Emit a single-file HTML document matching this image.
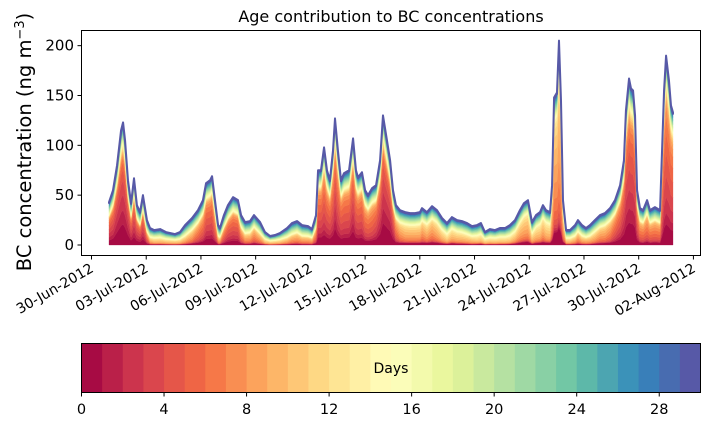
<!DOCTYPE html>
<html><head><meta charset="utf-8">
<style>
body{margin:0;background:#fff;}
svg{display:block;font-family:"DejaVu Sans","Liberation Sans",sans-serif;}
</style></head>
<body>
<svg id="chart" width="710" height="425" viewBox="0 0 710 425" xmlns="http://www.w3.org/2000/svg">
  <text x="391" y="22" font-size="16" text-anchor="middle" fill="#000">Age contribution to BC concentrations</text>
  <text transform="translate(31,142) rotate(-90)" font-size="19.5" text-anchor="middle" fill="#000">BC concentration (ng m<tspan baseline-shift="super" font-size="13">−3</tspan>)</text>
  <g id="layers"></g>
  <rect x="81.5" y="30.5" width="619" height="225" fill="none" stroke="#000" stroke-width="1"/>
  <g id="yaxis"></g>
  <g id="xaxis"></g>
  <g id="cbar"></g>
</svg>
<script>
// days since 30-Jun-2012 00:00
const times = [0.96,1.18,1.40,1.62,1.73,1.84,2.00,2.17,2.33,2.49,2.66,2.82,3.04,3.21,3.43,3.76,4.08,4.58,4.85,5.13,5.51,5.84,6.11,6.28,6.50,6.61,6.77,6.94,7.04,7.26,7.48,7.76,8.03,8.20,8.42,8.69,8.91,9.24,9.51,9.79,10.06,10.33,10.72,10.99,11.27,11.54,11.87,12.09,12.31,12.42,12.58,12.75,12.91,13.07,13.24,13.35,13.51,13.68,13.84,14.12,14.34,14.50,14.61,14.83,15.00,15.16,15.38,15.60,15.82,15.98,16.20,16.37,16.53,16.69,16.91,17.19,17.46,17.74,18.01,18.12,18.39,18.67,18.94,19.22,19.49,19.76,20.04,20.31,20.59,20.86,21.14,21.35,21.57,21.85,22.12,22.39,22.67,22.94,23.22,23.49,23.71,23.93,24.15,24.37,24.59,24.75,24.92,25.14,25.25,25.36,25.52,25.63,25.74,25.85,26.02,26.23,26.51,26.67,26.89,27.11,27.33,27.60,27.88,28.15,28.43,28.70,28.98,29.19,29.30,29.47,29.58,29.69,29.80,29.91,30.07,30.24,30.46,30.62,30.89,31.17,31.28,31.39,31.50,31.66,31.77,31.88];
const totals = [43,55,80,115,123,105,65,42,67,40,33,50,25,17,15,16,13,11,13,20,27,35,45,62,65,69,45,20,17,30,40,48,45,30,23,24,30,23,13,9,10,12,17,22,24,20,19,16,30,75,75,98,75,65,95,127,95,65,72,75,107,75,68,73,55,50,57,60,85,130,105,85,55,40,35,33,32,32,33,37,33,39,35,27,22,28,25,24,22,19,20,22,13,16,15,17,17,20,25,35,42,45,23,30,33,40,35,33,60,148,153,205,145,45,15,15,20,25,20,17,20,25,30,32,37,45,60,85,135,167,157,155,130,55,37,35,45,35,38,35,95,155,190,165,140,133];
const dominantAge = [3,3,2,2,2,2,2,3,3,3,3,3,5,9,10,10,10,10,10,9,8,6,5,4,4,4,5,8,8,5,4,4,4,6,8,8,7,8,10,10,10,10,9,8,8,8,8,8,6,4,4,4,4,4,4,3,4,4,4,4,3,4,4,4,5,5,5,4,3,2,2,2,3,6,8,9,9,9,9,8,9,8,9,10,11,10,10,10,10,10,11,11,11,11,11,11,11,11,10,9,9,9,10,10,10,9,10,10,8,8,8,8,8,8,10,10,9,8,9,9,9,9,8,8,7,5,4,3,3,3,3,3,3,4,6,6,6,6,6,6,5,4,4,4,4,4];
const yTicks = [0,50,100,150,200];
const xTickDays = [0,3,6,9,12,15,18,21,24,27,30,33];
const xTickLabels = ["30-Jun-2012","03-Jul-2012","06-Jul-2012","09-Jul-2012","12-Jul-2012","15-Jul-2012","18-Jul-2012","21-Jul-2012","24-Jul-2012","27-Jul-2012","30-Jul-2012","02-Aug-2012"];
const cbarTicks = [0,4,8,12,16,20,24,28];
const nAges = 30;

const NS="http://www.w3.org/2000/svg";
function mk(tag,attrs,parent){const e=document.createElementNS(NS,tag);for(const k in attrs)e.setAttribute(k,attrs[k]);parent.appendChild(e);return e;}
const xS = d => 91.5 + d*18.24;
const yS = v => 245 - v*0.9967;

const spec=["#9e0142","#d53e4f","#f46d43","#fdae61","#fee08b","#ffffbf","#e6f598","#abdda4","#66c2a5","#3288bd","#5e4fa2"];
function hx(h){return [1,3,5].map(i=>parseInt(h.substr(i,2),16));}
function cmap(t){const p=t*10,i=Math.min(9,Math.floor(p)),f=p-i;const a=hx(spec[i]),b=hx(spec[i+1]);return "rgb("+a.map((v,j)=>Math.round(v+(b[j]-v)*f)).join(",")+")";}

const cum = totals.map((tot,i)=>{
  const a=dominantAge[i];
  const oldPer=Math.min(tot*0.035, 0.6+tot*0.006);
  const oldN=nAges-14;
  const rest=tot-oldPer*oldN;
  const w=[];let s=0;
  for(let k=0;k<14;k++){let v=0.12+Math.exp(-0.5*Math.pow((k-a)/2.3,2));if(k===0)v+=0.7;w.push(v);s+=v;}
  const c=[0];let acc=0;
  for(let k=0;k<nAges;k++){acc+= k<14 ? w[k]/s*rest : oldPer;c.push(acc);}
  return c;
});
const layers=document.getElementById('layers');
for(let k=0;k<nAges;k++){
  let top=[],bot=[];
  for(let i=0;i<times.length;i++){top.push(xS(times[i]).toFixed(2)+","+yS(cum[i][k+1]).toFixed(2));bot.push(xS(times[i]).toFixed(2)+","+yS(cum[i][k]).toFixed(2));}
  const col=cmap((k+0.5)/nAges);
  const p=mk('polygon',{points:top.concat(bot.reverse()).join(" "),fill:col,stroke:col,'stroke-width':k===nAges-1?2:0.3,'stroke-linejoin':'round'},layers);
  
  
}

const ya=document.getElementById('yaxis');
yTicks.forEach(v=>{
  const y=yS(v);
  const l=mk('line',{x1:77.5,x2:81.5,y1:y,y2:y,stroke:'#000'},ya);
  
  
  const t=mk('text',{x:74,y:y+5,'font-size':15,'text-anchor':'end',fill:'#000'},ya);t.textContent=v;
  
  
});
const xa=document.getElementById('xaxis');
xTickDays.forEach((d,i)=>{
  const x=xS(d);
  const l=mk('line',{x1:x,x2:x,y1:255.5,y2:259.5,stroke:'#000'},xa);
  
  
  const t=mk('text',{transform:`translate(${x+3},${271}) rotate(-30)`,'font-size':14,'text-anchor':'end',fill:'#000'},xa);t.textContent=xTickLabels[i];
  
  
});

const cb=document.getElementById('cbar');
const cx0=81.5,cx1=700.5,cy0=343.5,cy1=392.5;
for(let k=0;k<nAges;k++){
  const r=mk('rect',{x:cx0+k*(cx1-cx0)/nAges,y:cy0,width:(cx1-cx0)/nAges+0.5,height:cy1-cy0,fill:cmap((k+0.5)/nAges)},cb);
  
  
}
const fr=mk('rect',{x:cx0,y:cy0,width:cx1-cx0,height:cy1-cy0,fill:'none',stroke:'#000'},cb);


const dl=mk('text',{x:391,y:373,'font-size':14,'text-anchor':'middle',fill:'#000'},cb);dl.textContent='Days';


cbarTicks.forEach(v=>{
  const x=cx0+v/nAges*(cx1-cx0);
  const l=mk('line',{x1:x,x2:x,y1:cy1,y2:cy1+4,stroke:'#000'},cb);
  
  
  const t=mk('text',{x:x,y:414,'font-size':14.5,'text-anchor':'middle',fill:'#000'},cb);t.textContent=v;
  
  
});
</script>
</body></html>
